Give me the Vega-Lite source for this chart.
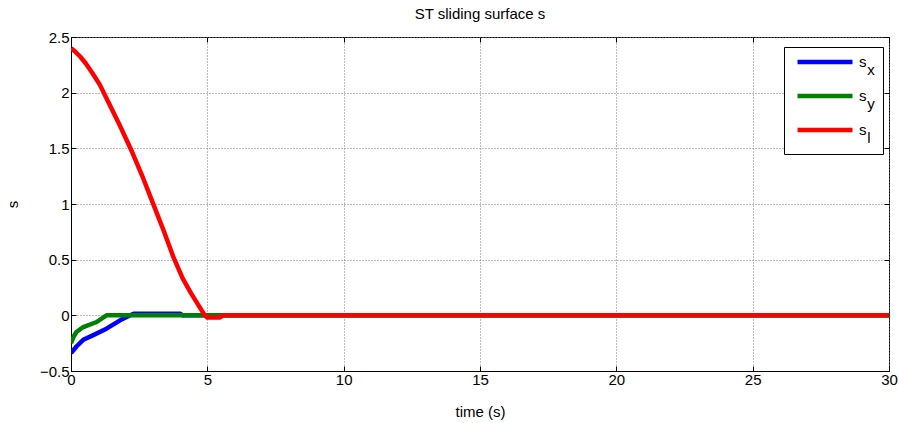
{
  "$schema": "https://vega.github.io/schema/vega-lite/v6.json",
  "width": 818,
  "height": 334,
  "autosize": {"type": "none"},
  "padding": {"left": 71, "top": 37, "right": 15, "bottom": 52},
  "background": "white",
  "title": {
    "text": "ST sliding surface s",
    "font": "Liberation Sans",
    "fontSize": 15,
    "fontWeight": "normal",
    "color": "black",
    "anchor": "middle",
    "offset": 8
  },
  "config": {
    "view": {"stroke": "black", "strokeWidth": 1},
    "axis": {
      "labelFont": "Liberation Sans",
      "labelFontSize": 15,
      "labelColor": "black",
      "labelFlush": false,
      "labelOverlap": false,
      "titleFont": "Liberation Sans",
      "titleFontSize": 15,
      "titleFontWeight": "normal",
      "titleColor": "black",
      "domainColor": "black",
      "tickColor": "black",
      "tickSize": -5,
      "gridColor": "#7a7a7a",
      "gridDash": [1, 2],
      "gridWidth": 1
    },
    "legend": {
      "labelFont": "Liberation Sans"
    }
  },
  "data": {
    "values": [
      {"t": 0, "s": -0.34, "series": "s_x"},
      {"t": 0.2, "s": -0.28, "series": "s_x"},
      {"t": 0.45, "s": -0.22, "series": "s_x"},
      {"t": 0.8, "s": -0.18, "series": "s_x"},
      {"t": 1.3, "s": -0.12, "series": "s_x"},
      {"t": 1.8, "s": -0.045, "series": "s_x"},
      {"t": 2.17, "s": 0.0, "series": "s_x"},
      {"t": 2.3, "s": 0.015, "series": "s_x"},
      {"t": 4.0, "s": 0.015, "series": "s_x"},
      {"t": 4.1, "s": 0.0, "series": "s_x"},
      {"t": 30, "s": 0.0, "series": "s_x"},
      {"t": 0, "s": -0.25, "series": "s_y"},
      {"t": 0.1, "s": -0.19, "series": "s_y"},
      {"t": 0.2, "s": -0.15, "series": "s_y"},
      {"t": 0.45, "s": -0.105, "series": "s_y"},
      {"t": 0.94, "s": -0.06, "series": "s_y"},
      {"t": 1.3, "s": 0.0, "series": "s_y"},
      {"t": 30, "s": 0.0, "series": "s_y"},
      {"t": 0, "s": 2.4, "series": "s_l"},
      {"t": 0.15, "s": 2.37, "series": "s_l"},
      {"t": 0.35, "s": 2.32, "series": "s_l"},
      {"t": 0.55, "s": 2.26, "series": "s_l"},
      {"t": 0.8, "s": 2.17, "series": "s_l"},
      {"t": 1.06, "s": 2.07, "series": "s_l"},
      {"t": 1.4, "s": 1.9, "series": "s_l"},
      {"t": 1.8, "s": 1.7, "series": "s_l"},
      {"t": 2.2, "s": 1.49, "series": "s_l"},
      {"t": 2.6, "s": 1.26, "series": "s_l"},
      {"t": 3.0, "s": 1.01, "series": "s_l"},
      {"t": 3.4, "s": 0.76, "series": "s_l"},
      {"t": 3.76, "s": 0.52, "series": "s_l"},
      {"t": 4.1, "s": 0.33, "series": "s_l"},
      {"t": 4.4, "s": 0.2, "series": "s_l"},
      {"t": 4.7, "s": 0.08, "series": "s_l"},
      {"t": 4.88, "s": 0.01, "series": "s_l"},
      {"t": 5.0, "s": -0.02, "series": "s_l"},
      {"t": 5.45, "s": -0.02, "series": "s_l"},
      {"t": 5.6, "s": 0.0, "series": "s_l"},
      {"t": 30, "s": 0.0, "series": "s_l"}
    ]
  },
  "layer": [
    {
      "mark": {"type": "line", "strokeWidth": 4.5, "strokeJoin": "round", "clip": true},
      "encoding": {
        "x": {
          "field": "t",
          "type": "quantitative",
          "scale": {"domain": [0, 30], "nice": false, "zero": false},
          "axis": {
            "orient": "bottom",
            "values": [0, 5, 10, 15, 20, 25, 30],
            "format": "~g",
            "grid": true,
            "labelPadding": 6,
            "title": "time (s)",
            "titleBaseline": "middle",
            "titleY": 40
          }
        },
        "y": {
          "field": "s",
          "type": "quantitative",
          "scale": {"domain": [-0.5, 2.5], "nice": false, "zero": false},
          "axis": {
            "orient": "left",
            "values": [-0.5, 0, 0.5, 1, 1.5, 2, 2.5],
            "format": "~g",
            "grid": true,
            "labelPadding": 7,
            "title": "s",
            "titleX": -59,
            "titleBaseline": "middle"
          }
        },
        "color": {
          "field": "series",
          "type": "nominal",
          "scale": {"domain": ["s_x", "s_y", "s_l"], "range": ["#0000ff", "#008000", "#ff0000"]},
          "legend": {
            "orient": "none",
            "legendX": 713,
            "legendY": 10,
            "title": null,
            "strokeColor": "black",
            "fillColor": "white",
            "padding": 8,
            "symbolType": "M-0.7,0H4.8",
            "symbolSize": 400,
            "symbolStrokeWidth": 4.5,
            "labelFontSize": 15,
            "labelColor": "black",
            "labelOffset": 42,
            "rowPadding": 11,
            "clipHeight": 14,
            "labelExpr": "['s', '\u200b\u00a0\u00a0' + slice(datum.label, 2)]",
            "encode": {"labels": {"update": {"lineHeight": {"value": 8}}}}
          }
        }
      }
    },
    {
      "mark": {"type": "point", "opacity": 0},
      "encoding": {
        "x": {
          "field": "t",
          "type": "quantitative",
          "axis": {
            "orient": "top",
            "values": [0, 5, 10, 15, 20, 25, 30],
            "grid": false,
            "labels": false,
            "domain": false,
            "title": null
          }
        },
        "y": {
          "field": "s",
          "type": "quantitative",
          "axis": {
            "orient": "right",
            "values": [-0.5, 0, 0.5, 1, 1.5, 2, 2.5],
            "grid": false,
            "labels": false,
            "domain": false,
            "title": null
          }
        }
      }
    }
  ],
  "resolve": {"axis": {"x": "independent", "y": "independent"}}
}
